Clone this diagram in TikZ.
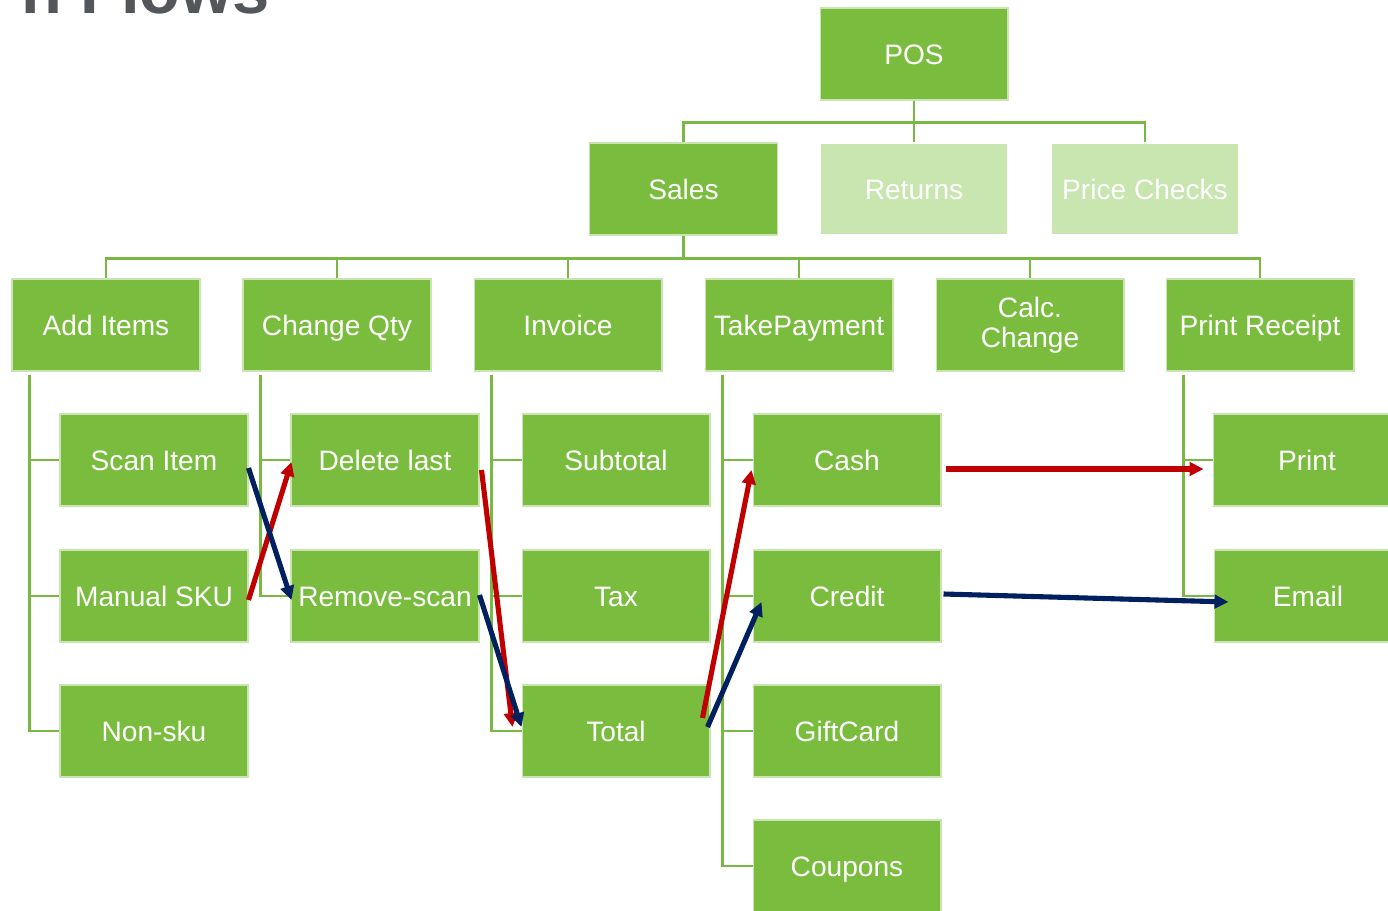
\documentclass[tikz,border=0pt]{standalone}
\usepackage{fontspec}
\setmainfont{Liberation Sans}
\usetikzlibrary{arrows.meta,calc}

\definecolor{boxgreen}{RGB}{122,189,62}
\definecolor{palegreen}{RGB}{201,229,176}
\definecolor{linegreen}{RGB}{120,184,67}
\definecolor{flowred}{RGB}{192,0,0}
\definecolor{flowblue}{RGB}{0,32,96}
\definecolor{titlegray}{RGB}{83,86,90}

\tikzset{
  box/.style={rectangle, fill=boxgreen, draw=white!60!boxgreen, line width=0.6pt,
    minimum width=3.76cm, minimum height=1.84cm, inner sep=0pt, text=white,
    font=\fontsize{16}{17}\selectfont, align=center, text height=13.4pt, text depth=2pt},
  twoline/.style={text height={}, text depth={}},
  palebox/.style={box, fill=palegreen, draw=white},
  tree/.style={draw=linegreen, line width=1.3pt},
  redflow/.style={draw=flowred, line width=2.9pt, -{Triangle[length=0.28cm,width=0.27cm]}},
  blueflow/.style={draw=flowblue, line width=2.9pt, -{Triangle[length=0.28cm,width=0.27cm]}}
}

\begin{document}
\begin{tikzpicture}[x=0.02cm, y=-0.02cm]
\useasboundingbox (0,0) rectangle (1388,911);
\node[anchor=base east, text=titlegray, font=\fontsize{38}{40}\selectfont\bfseries] (title) at (276,14) {n Flows};

% top levels
\node[box] (pos) at (914,54) {POS};
\node[box] (sales) at (683.5,189) {Sales};
\node[palebox] (returns) at (914,189) {Returns};
\node[palebox] (pricechecks) at (1145,189) {Price Checks};

\node[box] (additems) at (106,325) {Add Items};
\node[box] (changeqty) at (337,325) {Change Qty};
\node[box] (invoice) at (568,325) {Invoice};
\node[box] (takepayment) at (799,325) {TakePayment};
\node[box, twoline] (calcchange) at (1030,325) {Calc.\\Change};
\node[box] (printreceipt) at (1260,325) {Print Receipt};

% children
\node[box] (scan) at (154,460) {Scan Item};
\node[box] (manual) at (154,596) {Manual SKU};
\node[box] (nonsku) at (154,731) {Non-sku};
\node[box] (delete) at (385,460) {Delete last};
\node[box] (remove) at (385,596) {Remove-scan};
\node[box] (subtotal) at (616,460) {Subtotal};
\node[box] (tax) at (616,596) {Tax};
\node[box] (total) at (616,731) {Total};
\node[box] (cash) at (847,460) {Cash};
\node[box] (credit) at (847,596) {Credit};
\node[box] (giftcard) at (847,731) {GiftCard};
\node[box] (coupons) at (847,866) {Coupons};
\node[box] (print) at (1307,460) {Print};
\node[box] (email) at (1308,596) {Email};

% tree lines
\foreach \c in {sales,returns,pricechecks}
    \draw[tree] (pos.south) -- ++(0,22) -| (\c.north);
\foreach \c in {additems,changeqty,invoice,takepayment,calcchange,printreceipt}
    \draw[tree] (sales.south) -- ++(0,23) -| (\c.north);
\foreach \p/\c in {additems/scan,additems/manual,additems/nonsku,
                   changeqty/delete,changeqty/remove,
                   invoice/subtotal,invoice/tax,invoice/total,
                   takepayment/cash,takepayment/credit,takepayment/giftcard,takepayment/coupons,
                   printreceipt/print,printreceipt/email}
    \draw[tree] ($(\p.south west)+(18,3)$) |- (\c.west);

% flows
\draw[redflow] ($(manual.east)+(0,4)$) -- ($(delete.west)+(1,2)$);
\draw[blueflow] ($(scan.east)+(0,8)$) -- ($(remove.west)+(1,4)$);
\draw[redflow] ($(delete.east)+(2,10)$) -- ($(total.west)+(-9,-4)$);
\draw[blueflow] ($(remove.east)+(0,-1)$) -- ($(total.west)+(0,-4)$);
\draw[redflow] ($(total.east)+(-8,-13)$) -- ($(cash.west)+(-1,10)$);
\draw[blueflow] ($(total.east)+(-3,-4)$) -- ($(credit.west)+(9,6)$);
\draw[redflow] ($(cash.east)+(4,9)$) -- ($(print.west)+(-9,9)$);
\draw[blueflow] ($(credit.east)+(2,-2)$) -- ($(email.west)+(15,6)$);
\end{tikzpicture}
\end{document}
